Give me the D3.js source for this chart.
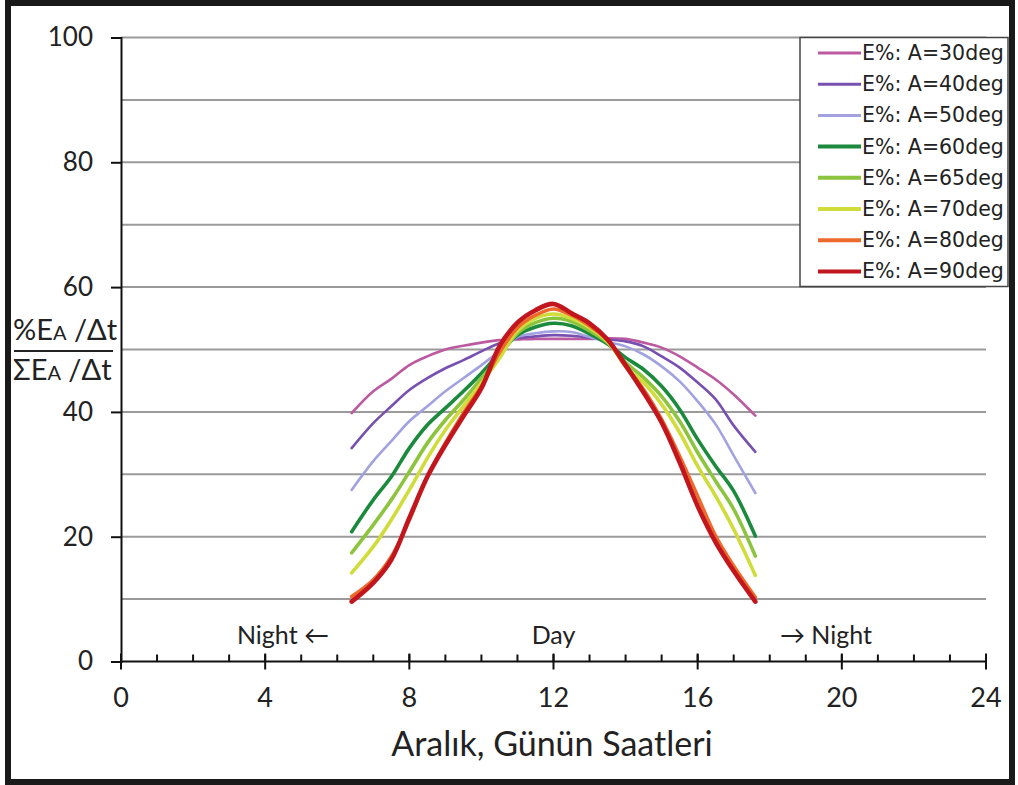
<!DOCTYPE html>
<html>
<head>
<meta charset="utf-8">
<script src="https://cdn.jsdelivr.net/npm/d3@7"></script>
<style>
  html, body { margin: 0; padding: 0; background: #fff; }
  svg { display: block; }
</style>
</head>
<body>
<svg id="chart" width="1018" height="785"></svg>
<script>
// Hours of the day at which the share of daily energy was evaluated
const hours = [6.4, 7, 7.5, 8, 8.5, 9, 9.5, 10, 10.5, 11, 11.5, 12, 12.5, 13, 13.5, 14, 14.5, 15, 15.5, 16, 16.5, 17, 17.6];

// Series labels and colours
const seriesNames = ["E%: A=30deg", "E%: A=40deg", "E%: A=50deg", "E%: A=60deg",
                     "E%: A=65deg", "E%: A=70deg", "E%: A=80deg", "E%: A=90deg"];
const seriesColors = ["#bb5aa0", "#7850b0", "#a2a2e0", "#1b8a3c",
                      "#8cc43e", "#cfdc3a", "#ee6a2c", "#c2161e"];
const seriesWidths = [2.6, 2.6, 2.6, 3.6, 3.6, 3.6, 3.6, 4.6];

// Normalised energy share per series (%)
const a30 = [39.8, 43.3, 45.3, 47.5, 48.9, 50.0, 50.6, 51.1, 51.5, 51.6, 51.7, 51.7, 51.7, 51.7, 51.8, 51.7, 51.1, 50.3, 48.9, 47.1, 45.2, 42.8, 39.4];
const a40 = [34.2, 38.2, 40.9, 43.5, 45.4, 47.0, 48.3, 49.7, 51.0, 51.8, 52.1, 52.3, 52.2, 51.9, 51.6, 51.3, 50.5, 48.9, 47.1, 44.7, 42.0, 37.8, 33.6];
const a50 = [27.5, 32.1, 35.3, 38.5, 40.9, 43.3, 45.4, 47.5, 49.7, 52.0, 52.6, 52.9, 52.8, 52.0, 51.2, 50.5, 49.2, 47.3, 44.9, 41.7, 38.0, 33.0, 27.0];
const a60 = [20.8, 25.9, 29.6, 34.2, 37.9, 40.6, 43.3, 46.2, 49.4, 52.3, 53.6, 54.2, 53.8, 52.5, 50.9, 48.7, 46.8, 44.1, 40.4, 35.6, 31.3, 27.3, 20.1];
const a65 = [17.4, 21.9, 25.9, 30.4, 35.0, 38.7, 41.9, 45.4, 48.9, 52.6, 54.3, 55.0, 54.5, 53.0, 51.1, 47.9, 45.5, 42.5, 38.5, 33.5, 28.9, 24.4, 16.9];
const a70 = [14.2, 18.4, 22.7, 27.5, 32.6, 37.1, 40.9, 44.6, 48.6, 53.0, 55.0, 55.7, 55.0, 53.5, 51.3, 47.3, 44.7, 41.2, 36.7, 31.3, 26.5, 21.2, 13.8];
const a80 = [10.4, 13.1, 16.8, 22.7, 29.6, 35.0, 39.8, 44.1, 49.5, 53.5, 55.5, 56.5, 55.5, 53.8, 51.5, 47.3, 43.6, 38.8, 32.9, 26.5, 20.1, 15.3, 10.3];
const a90 = [9.6, 12.6, 16.3, 23.0, 29.6, 34.7, 39.3, 43.8, 50.5, 54.3, 56.3, 57.3, 55.8, 54.2, 51.6, 47.5, 43.1, 38.3, 31.9, 24.9, 19.1, 14.5, 9.6];
const seriesValues = [a30, a40, a50, a60, a65, a70, a80, a90];

// Axis ticks
const yMajorTicks = [0, 20, 40, 60, 80, 100];
const yGridTicks = [10, 20, 30, 40, 50, 60, 70, 80, 90, 100];
const xMajorTicks = [0, 4, 8, 12, 16, 20, 24];
const xMinorTicks = d3.range(0, 25, 1);

const calibriLike = "Lato, 'Open Sans', sans-serif";

const svg = d3.select("#chart");

// Outer frame
svg.append("rect")
  .attr("x", 8).attr("y", 3).attr("width", 1004).attr("height", 779)
  .attr("fill", "#fff").attr("stroke", "#1a1a1a").attr("stroke-width", 6);

const x = d3.scaleLinear().domain([0, 24]).range([121, 986]);
const y = d3.scaleLinear().domain([0, 100]).range([661.5, 37.5]);

// Horizontal gridlines
svg.append("g").selectAll("line").data(yGridTicks).join("line")
  .attr("x1", x(0)).attr("x2", x(24))
  .attr("y1", d => y(d)).attr("y2", d => y(d))
  .attr("stroke", "#9a9a9a").attr("stroke-width", 2);

// Y axis
const yAxis = d3.axisLeft(y).tickValues(yMajorTicks).tickSize(10).tickPadding(18).tickFormat(d3.format("d"));
const gy = svg.append("g").attr("transform", `translate(${x(0)},0)`).call(yAxis);
gy.select(".domain").attr("stroke", "#111").attr("stroke-width", 2);
gy.selectAll(".tick line").attr("stroke", "#111").attr("stroke-width", 2);
gy.selectAll(".tick text").attr("font-family", calibriLike).attr("font-size", 26).attr("fill", "#222");

// X axis: hourly minor ticks pointing up, major ticks crossing the axis
const gx = svg.append("g").attr("transform", `translate(0,${y(0)})`);
gx.append("line").attr("x1", x(0)).attr("x2", x(24)).attr("stroke", "#111").attr("stroke-width", 2);
gx.selectAll("line.minor").data(xMinorTicks).join("line").attr("class", "minor")
  .attr("x1", d => x(d)).attr("x2", d => x(d)).attr("y1", -7).attr("y2", 0)
  .attr("stroke", "#111").attr("stroke-width", 2);
gx.selectAll("line.major").data(xMajorTicks).join("line").attr("class", "major")
  .attr("x1", d => x(d)).attr("x2", d => x(d)).attr("y1", -8).attr("y2", 8)
  .attr("stroke", "#111").attr("stroke-width", 2);
gx.selectAll("text").data(xMajorTicks).join("text")
  .attr("x", d => x(d)).attr("y", 45)
  .attr("text-anchor", "middle")
  .attr("font-family", calibriLike).attr("font-size", 27).attr("fill", "#222")
  .text(d => d);

// X axis title
svg.append("text").attr("x", 552).attr("y", 756).attr("text-anchor", "middle")
  .attr("font-family", calibriLike).attr("font-size", 34).attr("fill", "#222")
  .text("Aralık, Günün Saatleri");

// Y axis title as a fraction
const yt = svg.append("g").attr("font-family", calibriLike).attr("fill", "#222");
const numerator = yt.append("text").attr("x", 13).attr("y", 340).attr("font-size", 29);
numerator.append("tspan").text("%E");
numerator.append("tspan").attr("font-size", 20).text("A");
numerator.append("tspan").text(" /Δt");
yt.append("line").attr("x1", 14).attr("x2", 113).attr("y1", 351).attr("y2", 351)
  .attr("stroke", "#222").attr("stroke-width", 2);
const denominator = yt.append("text").attr("x", 13).attr("y", 380).attr("font-size", 29);
denominator.append("tspan").text("ΣE");
denominator.append("tspan").attr("font-size", 20).text("A");
denominator.append("tspan").text(" /Δt");

// Day / night annotations
const noteStyle = sel => sel.attr("text-anchor", "middle").attr("font-family", calibriLike)
  .attr("font-size", 25).attr("fill", "#222");
svg.append("text").attr("x", 283).attr("y", 644).call(noteStyle).text("Night ←");
svg.append("text").attr("x", x(12)).attr("y", 644).call(noteStyle).text("Day");
svg.append("text").attr("x", 826).attr("y", 644).call(noteStyle).text("→ Night");

// Series lines
const line = d3.line()
  .x((d, i) => x(hours[i]))
  .y(d => y(d))
  .curve(d3.curveCatmullRom.alpha(0.5));

svg.append("g").selectAll("path").data(seriesValues).join("path")
  .attr("d", d => line(d))
  .attr("fill", "none")
  .attr("stroke", (d, i) => seriesColors[i])
  .attr("stroke-width", (d, i) => seriesWidths[i])
  .attr("stroke-linejoin", "round")
  .attr("stroke-linecap", "round");

// Legend
const lg = svg.append("g");
lg.append("rect").attr("x", 800).attr("y", 37.5).attr("width", 208).attr("height", 249)
  .attr("fill", "#fff").attr("stroke", "#444").attr("stroke-width", 1.5);
const items = lg.selectAll("g.item").data(seriesNames).join("g").attr("class", "item")
  .attr("transform", (d, i) => `translate(0,${53 + i * 31.2})`);
items.append("line").attr("x1", 818).attr("x2", 861).attr("y1", 0).attr("y2", 0)
  .attr("stroke", (d, i) => seriesColors[i])
  .attr("stroke-width", (d, i) => i < 3 ? 3 : 4);
items.append("text").attr("x", 862).attr("y", 7)
  .attr("font-family", "'DejaVu Sans', sans-serif").attr("font-size", 20.5).attr("fill", "#222")
  .text(d => d);
</script>
</body>
</html>
